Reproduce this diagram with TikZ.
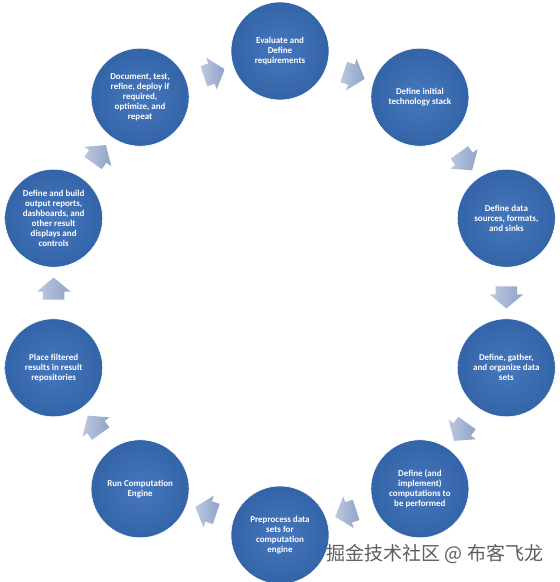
\documentclass[tikz,border=0pt]{standalone}
\usepackage{fontspec}
\usetikzlibrary{shapes.arrows,calc}
\newfontfamily\stagefont{Carlito}
\newfontfamily\cjkfont{Noto Sans CJK SC}
\definecolor{stageIn}{HTML}{4677BC}
\definecolor{stageOut}{HTML}{3464A8}
\definecolor{arrowTail}{HTML}{BCC8DE}
\definecolor{arrowTip}{HTML}{8EA3C8}
\definecolor{markGray}{HTML}{5E5E5E}

\begin{document}
\begin{tikzpicture}[x=1pt,y=1pt,
  stage/.style={circle,minimum size=98pt,inner sep=0pt,draw=white,line width=0.6pt,
    inner color=stageIn,outer color=stageOut,text=white,align=center,
    font=\stagefont\bfseries\fontsize{9}{10}\selectfont},
  cyclearrow/.style={single arrow,draw=none,left color=arrowTail,right color=arrowTip,
    inner xsep=0pt,inner ysep=10.5pt,minimum height=22pt,
    single arrow head extend=6pt,single arrow tip angle=100}]
  \useasboundingbox[fill=white](-280,-289)rectangle(280,293);
  % the ten stages, clockwise from the top
  \node[stage](s1) at (90:238 and 242) {Evaluate and\\Define\\requirements};
  \node[stage](s2) at (54:238 and 242) {Define initial\\technology stack};
  \node[stage](s3) at (18:238 and 242) {Define data\\sources, formats,\\and sinks};
  \node[stage](s4) at (-18:238 and 242) {Define, gather,\\and organize data\\sets};
  \node[stage](s5) at (-54:238 and 242) {Define (and\\implement)\\computations to\\be performed};
  \node[stage](s6) at (-90:238 and 242) {Preprocess data\\sets for\\computation\\engine};
  \node[stage](s7) at (-126:238 and 242) {Run Computation\\Engine};
  \node[stage](s8) at (-162:238 and 242) {Place filtered\\results in result\\repositories};
  \node[stage](s9) at (162:238 and 242) {Define and build\\output reports,\\dashboards, and\\other result\\displays and\\controls};
  \node[stage](s10) at (126:238 and 242) {Document, test,\\refine, deploy if\\required,\\optimize, and\\repeat};
  % block arrows between neighbours
  \foreach \a/\b in {s1/s2,s2/s3,s3/s4,s4/s5,s5/s6,s6/s7,s7/s8,s8/s9,s9/s10,s10/s1}
    \path(\a)--(\b)node[midway,sloped,allow upside down,cyclearrow]{};
  \node[text=markGray,font=\cjkfont\fontsize{19}{21}\selectfont](mark) at (155,-261) {掘金技术社区 @ 布客飞龙};
\end{tikzpicture}
\end{document}
